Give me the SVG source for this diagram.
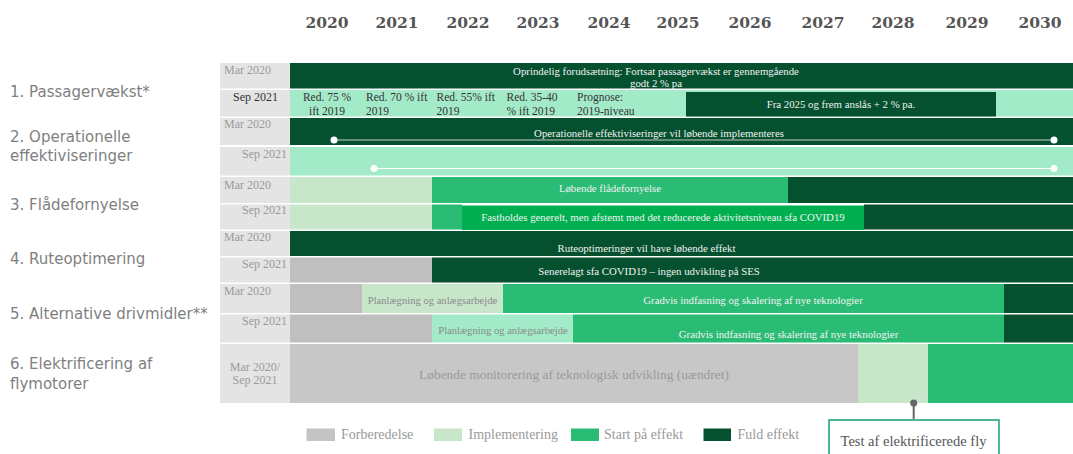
<svg xmlns="http://www.w3.org/2000/svg" width="1073" height="454" viewBox="0 0 1073 454">
<style>
.yr{font-family:"DejaVu Serif","Liberation Serif",serif;font-weight:bold;font-size:15.5px;fill:#555;text-anchor:middle}
.cat{font-family:"DejaVu Sans","Liberation Sans",sans-serif;font-size:15px;fill:#7f7f7f}
.lbl{fill:#e4e4e4}
.dt{font-family:"Liberation Serif",serif;font-size:12px;fill:#9a9a9a}
.dk{fill:#04502f}
.mi{fill:#a3eac8}
.lg{fill:#c8e6c9}
.md{fill:#2abb74}
.br{fill:#00b050}
.gr{fill:#bfbfbf}
.gr2{fill:#c7c7c7}
.wt{font-family:"Liberation Serif",serif;font-size:10.8px;fill:#f2f2f2;text-anchor:middle}
.bt{font-family:"Liberation Serif",serif;font-size:11.5px;fill:#333}
.gt{font-family:"Liberation Serif",serif;font-size:10.6px;fill:#8a8a8a;text-anchor:middle}
.lt{font-family:"Liberation Serif",serif;font-size:14px;fill:#9a9a9a}
</style>

<g id="years">
<text class="yr" x="327" y="28">2020</text>
<text class="yr" x="397" y="28">2021</text>
<text class="yr" x="468" y="28">2022</text>
<text class="yr" x="538" y="28">2023</text>
<text class="yr" x="609" y="28">2024</text>
<text class="yr" x="678" y="28">2025</text>
<text class="yr" x="750" y="28">2026</text>
<text class="yr" x="823" y="28">2027</text>
<text class="yr" x="893" y="28">2028</text>
<text class="yr" x="967" y="28">2029</text>
<text class="yr" x="1040" y="28">2030</text>
</g>

<g id="categories">
<text class="cat" x="10" y="97">1. Passagervækst*</text>
<text class="cat" x="10" y="142">2. Operationelle</text>
<text class="cat" x="10" y="161">effektiviseringer</text>
<text class="cat" x="10" y="210">3. Flådefornyelse</text>
<text class="cat" x="10" y="264">4. Ruteoptimering</text>
<text class="cat" x="10" y="319">5. Alternative drivmidler**</text>
<text class="cat" x="10" y="369">6. Elektrificering af</text>
<text class="cat" x="10" y="389">flymotorer</text>
</g>

<g id="row1">
<rect class="lbl" x="220" y="63" width="70" height="25.5"/>
<rect class="lbl" x="220" y="90" width="70" height="26.5"/>
<text class="dt" x="224" y="74">Mar 2020</text>
<text class="dt" x="233" y="101" style="fill:#333">Sep 2021</text>
<rect class="dk" x="290" y="63" width="783" height="25.5"/>
<text class="wt" x="656" y="75">Oprindelig forudsætning: Fortsat passagervækst er gennemgående</text>
<text class="wt" x="656" y="87">godt 2 % pa</text>
<rect class="mi" x="290" y="90" width="783" height="26.5"/>
<rect class="dk" x="686" y="92" width="310" height="24.5"/>
<text class="wt" x="841" y="108">Fra 2025 og frem anslås + 2 % pa.</text>
<text class="bt" x="327" y="101" text-anchor="middle">Red. 75 %</text>
<text class="bt" x="327" y="115" text-anchor="middle">ift 2019</text>
<text class="bt" x="366" y="101">Red. 70 % ift</text>
<text class="bt" x="366" y="115">2019</text>
<text class="bt" x="436.5" y="101">Red. 55% ift</text>
<text class="bt" x="436.5" y="115">2019</text>
<text class="bt" x="506.5" y="101">Red. 35-40</text>
<text class="bt" x="506.5" y="115">% ift 2019</text>
<text class="bt" x="577" y="101">Prognose:</text>
<text class="bt" x="577" y="115">2019-niveau</text>
</g>

<g id="row2">
<rect class="lbl" x="220" y="118" width="70" height="27"/>
<rect class="lbl" x="220" y="147" width="70" height="28.5"/>
<text class="dt" x="224" y="128">Mar 2020</text>
<text class="dt" x="287" y="157.5" text-anchor="end">Sep 2021</text>
<rect class="dk" x="290" y="118" width="783" height="27"/>
<text class="wt" x="659" y="137">Operationelle effektiviseringer vil løbende implementeres</text>
<line x1="334" y1="140" x2="1054" y2="140" stroke="#c8c8c8" stroke-width="1"/>
<circle cx="334" cy="140" r="3.5" fill="#fff"/>
<circle cx="1054" cy="140" r="3.5" fill="#fff"/>
<rect class="mi" x="290" y="147" width="783" height="28.5"/>
<line x1="374" y1="168.5" x2="1054" y2="168.5" stroke="#fff" stroke-width="1"/>
<circle cx="374" cy="168.5" r="3.5" fill="#fff"/>
<circle cx="1054" cy="168.5" r="3.5" fill="#fff"/>
</g>

<g id="row3">
<rect class="lbl" x="220" y="177" width="70" height="26"/>
<rect class="lbl" x="220" y="204.5" width="70" height="25"/>
<text class="dt" x="224" y="189">Mar 2020</text>
<text class="dt" x="287" y="214" text-anchor="end">Sep 2021</text>
<rect class="lg" x="290" y="177" width="142" height="26"/>
<rect class="md" x="432" y="177" width="356" height="26"/>
<rect class="dk" x="788" y="177" width="285" height="26"/>
<text class="wt" x="610" y="192">Løbende flådefornyelse</text>
<rect class="lg" x="290" y="204.5" width="142" height="25"/>
<rect class="md" x="432" y="204.5" width="30" height="25"/>
<rect class="dk" x="864" y="204.5" width="209" height="25"/>
<rect class="br" x="462" y="205.5" width="402" height="24.5"/>
<text class="wt" x="663" y="221">Fastholdes generelt, men afstemt med det reducerede aktivitetsniveau sfa COVID19</text>
</g>

<g id="row4">
<rect class="lbl" x="220" y="231" width="70" height="25"/>
<rect class="lbl" x="220" y="257.5" width="70" height="25"/>
<text class="dt" x="224" y="241">Mar 2020</text>
<text class="dt" x="287" y="268" text-anchor="end">Sep 2021</text>
<rect class="dk" x="290" y="231" width="783" height="25"/>
<text class="wt" x="646.5" y="252">Ruteoptimeringer vil have løbende effekt</text>
<rect class="gr" x="290" y="257.5" width="142" height="25"/>
<rect class="dk" x="432" y="257.5" width="641" height="25"/>
<text class="wt" x="649" y="275">Senerelagt sfa COVID19 – ingen udvikling på SES</text>
</g>

<g id="row5">
<rect class="lbl" x="220" y="284" width="70" height="29"/>
<rect class="lbl" x="220" y="314.5" width="70" height="28"/>
<text class="dt" x="224" y="295">Mar 2020</text>
<text class="dt" x="287" y="325" text-anchor="end">Sep 2021</text>
<rect class="gr" x="290" y="284" width="72" height="29"/>
<rect class="lg" x="362" y="284" width="141" height="29"/>
<rect class="md" x="503" y="284" width="501" height="29"/>
<rect class="dk" x="1004" y="284" width="69" height="29"/>
<text class="gt" x="432.5" y="303.5">Planlægning og anlægsarbejde</text>
<text class="wt" x="753" y="303.5">Gradvis indfasning og skalering af nye teknologier</text>
<rect class="gr" x="290" y="314.5" width="142" height="28"/>
<rect class="mi" x="432" y="314.5" width="141" height="28"/>
<rect class="md" x="573" y="314.5" width="431" height="28"/>
<rect class="dk" x="1004" y="314.5" width="69" height="28"/>
<text class="gt" x="503" y="334">Planlægning og anlægsarbejde</text>
<text class="wt" x="788.5" y="338">Gradvis indfasning og skalering af nye teknologier</text>
</g>

<g id="row6">
<rect class="lbl" x="220" y="344" width="70" height="59"/>
<text class="dt" x="255" y="370.5" text-anchor="middle">Mar 2020/</text>
<text class="dt" x="255" y="384" text-anchor="middle">Sep 2021</text>
<rect class="gr2" x="290" y="344" width="568" height="59"/>
<rect class="lg" x="858" y="344" width="70" height="59"/>
<rect class="md" x="928" y="344" width="145" height="59"/>
<text x="574" y="378.5" text-anchor="middle" style="font-family:'Liberation Serif',serif;font-size:13.4px;fill:#9a9a9a">Løbende monitorering af teknologisk udvikling (uændret)</text>
</g>

<g id="legend">
<rect x="306.5" y="428.5" width="28.5" height="12.5" fill="#c4c4c4"/>
<text class="lt" x="341" y="439">Forberedelse</text>
<rect x="434" y="428.5" width="28" height="12.5" fill="#c8e6c9"/>
<text class="lt" x="468.5" y="439">Implementering</text>
<rect x="571" y="428.5" width="28" height="12.5" fill="#2abb74"/>
<text class="lt" x="604" y="439">Start på effekt</text>
<rect x="703.5" y="428.5" width="27.5" height="12.5" fill="#04502f"/>
<text class="lt" x="737.5" y="439">Fuld effekt</text>
</g>

<g id="callout">
<rect x="829" y="420" width="170" height="40" fill="#fff" stroke="#4cb896" stroke-width="2"/>
<text x="913.5" y="446" text-anchor="middle" style="font-family:'Liberation Serif',serif;font-size:14.5px;fill:#555">Test af elektrificerede fly</text>
</g>

<g id="connectors">
<line x1="913.7" y1="403" x2="913.7" y2="419" stroke="#666" stroke-width="2"/>
<circle cx="913.7" cy="403" r="3.5" fill="#666"/>
</g>
</svg>
